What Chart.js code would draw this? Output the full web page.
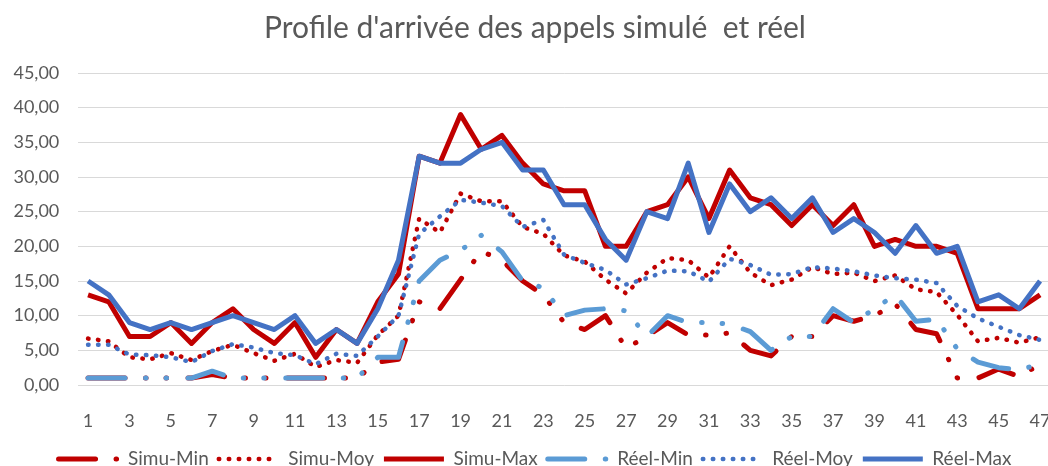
<!DOCTYPE html>
<html lang="fr">
<head>
<meta charset="utf-8">
<title>Profile d'arrivée des appels</title>
<script src="https://cdn.jsdelivr.net/npm/chart.js@4.4.1/dist/chart.umd.min.js"></script>
<style>
  html, body { margin: 0; padding: 0; background: #fff; overflow: hidden; }
  #wrap { width: 1048px; height: 466px; overflow: hidden; }
  canvas { display: block; }
</style>
</head>
<body>
<div id="wrap"><canvas id="appels" width="1070" height="480"></canvas></div>
<script>
// créneaux 1..47
const creneaux = ['1','2','3','4','5','6','7','8','9','10','11','12','13','14','15','16',
  '17','18','19','20','21','22','23','24','25','26','27','28','29','30','31','32',
  '33','34','35','36','37','38','39','40','41','42','43','44','45','46','47'];

const simuMin = [1, 1, 1, 1, 1, 1, 1.5, 1, 1, 1, 1, 1, 1, 1, 3.3, 3.7, 12, 11, 15.2, 19.3,
  18, 15, 13, 9, 8, 10, 5.3, 7, 9, 7.2, 7.2, 7.5, 5, 4.2, 7, 7, 10, 9.2, 10, 11.7,
  8, 7.4, 1, 1, 2.3, 1.2, 3];
const simuMoy = [6.7, 6.3, 4.0, 3.7, 4.6, 3.6, 4.9, 5.8, 4.6, 3.5, 4.5, 2.6, 3.6, 3.2, 7.2, 10, 24, 22, 27.6, 26.5,
  26.5, 22.8, 21.8, 18.7, 17.8, 15.2, 13.2, 16.2, 18.3, 18, 15.5, 20, 16.2, 14.4, 15.2, 17, 16, 16.2, 15, 15.8,
  13.8, 13.4, 10.1, 6.3, 6.8, 6.1, 6.9];
const simuMax = [13, 12, 7, 7, 9, 6, 9, 11, 8, 6, 9, 4, 8, 6, 12, 16, 33, 32, 39, 34,
  36, 32, 29, 28, 28, 20, 20, 25, 26, 30, 24, 31, 27, 26, 23, 26, 23, 26, 20, 21,
  20, 20, 19, 11, 11, 11, 13];
const reelMin = [1, 1, 1, 1, 1, 1, 2, 1, 1, 1, 1, 1, 1, 1, 4, 4, 15, 18, 19.4, 21.6,
  19.2, 15, 14, 10, 10.8, 11, 10.7, 7, 10, 9, 9, 8.8, 7.7, 5, 7, 7, 11, 9, 11, 13,
  9.2, 9.5, 5.2, 3.3, 2.5, 2.2, 3];
const reelMoy = [5.8, 5.8, 4.4, 4.3, 4.0, 3.3, 4.9, 5.9, 5.4, 4.6, 4.3, 3.0, 4.5, 4.2, 7, 10, 21.8, 24.3, 26.7, 26.3,
  25.8, 22.8, 23.8, 18.8, 17.6, 16.6, 14.5, 15.4, 16.5, 16.4, 14.9, 18.2, 17.3, 15.9, 16, 17, 16.8, 16.4, 15.8, 15.4,
  15.2, 14.7, 11.4, 9.6, 8.4, 7.2, 6.5];
const reelMax = [15, 13, 9, 8, 9, 8, 9, 10, 9, 8, 10, 6, 8, 6, 11, 18, 33, 32, 32, 34,
  35, 31, 31, 26, 26, 21, 18, 25, 24, 32, 22, 29, 25, 27, 24, 27, 22, 24, 22, 19,
  23, 19, 20, 12, 13, 11, 15];

const ROUGE = '#C00000';
const BLEU = '#4472C4';
const BLEU_CLAIR = '#5B9BD5';
const GRIS = '#595959';

// tiret long + deux points
const tiretPoint = [37, 20.5, 0.5, 20, 0.5, 21.5];
const pointille = [0.5, 9.5];

function serie(label, data, color, dash, order) {
  return {
    label, data, order,
    borderColor: color,
    backgroundColor: color,
    borderWidth: dash === pointille ? 4.5 : 5,
    borderDash: dash,
    borderCapStyle: dash.length ? 'round' : 'butt',
    borderJoinStyle: 'round',
    pointRadius: 0,
    tension: 0,
    fill: false
  };
}

// la légende reprend le trait de chaque série (tirets, pointillés)
function legendeTraits(chart) {
  return Chart.defaults.plugins.legend.labels.generateLabels(chart).map(item => {
    const ds = chart.data.datasets[item.datasetIndex];
    item.pointStyle = 'line';
    item.strokeStyle = ds.borderColor;
    item.lineWidth = ds.borderWidth;
    item.lineDash = ds.borderDash;
    item.lineCap = ds.borderCapStyle;
    return item;
  });
}

Chart.defaults.font.family = 'Lato, "Open Sans", sans-serif';
Chart.defaults.color = GRIS;

new Chart(document.getElementById('appels'), {
  type: 'line',
  data: {
    labels: creneaux,
    datasets: [
      serie('Simu-Min', simuMin, ROUGE, tiretPoint, 6),
      serie('Simu-Moy', simuMoy, ROUGE, pointille, 5),
      serie('Simu-Max', simuMax, ROUGE, [], 4),
      serie('Réel-Min', reelMin, BLEU_CLAIR, tiretPoint, 3),
      serie('Réel-Moy', reelMoy, BLEU, pointille, 2),
      serie('Réel-Max', reelMax, BLEU, [], 1)
    ]
  },
  options: {
    responsive: false,
    animation: false,
    layout: { padding: { left: 0, right: 0, top: 0, bottom: 1.5 } },
    plugins: {
      title: {
        display: true,
        text: "Profile d'arrivée des appels simulé  et réel",
        color: GRIS,
        font: { size: 30, weight: 'normal', lineHeight: 1.15 },
        padding: { top: 10.75, bottom: 27.75 }
      },
      legend: {
        position: 'bottom',
        labels: {
          usePointStyle: true,
          pointStyleWidth: 60,
          boxHeight: 19,
          padding: 10,
          color: GRIS,
          font: { size: 19 },
          generateLabels: legendeTraits,
          sort: (a, b) => a.datasetIndex - b.datasetIndex
        }
      },
      tooltip: { enabled: false }
    },
    scales: {
      x: {
        offset: true,
        grid: { display: false },
        border: { display: false },
        ticks: {
          autoSkip: false,
          maxRotation: 0,
          padding: 17,
          color: GRIS,
          font: { size: 18 },
          callback: (v, i) => (i % 2 === 0 ? creneaux[i] : '')
        },
        afterFit: s => { s.height = 54.5; }
      },
      y: {
        min: 0,
        max: 45,
        border: { display: false },
        grid: { color: '#D9D9D9', lineWidth: 1, drawTicks: false },
        ticks: {
          stepSize: 5,
          padding: 18.4,
          color: GRIS,
          font: { size: 18 },
          callback: v => v.toFixed(2).replace('.', ',')
        },
        afterFit: s => { s.width = 77.7; }
      },
      // marge vide à droite de la zone de tracé
      marge: {
        type: 'linear',
        position: 'right',
        grid: { display: false },
        border: { display: false },
        ticks: { display: false },
        afterFit: s => { s.width = 19.6; }
      }
    }
  }
});
</script>
</body>
</html>
